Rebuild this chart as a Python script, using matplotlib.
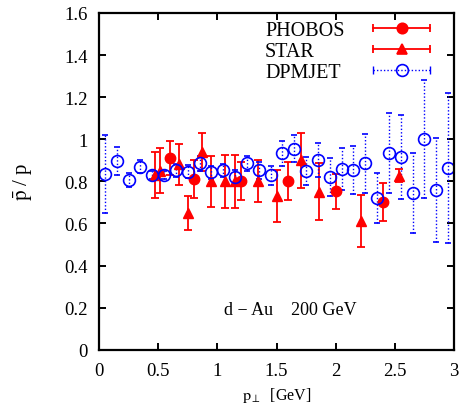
import matplotlib
matplotlib.use("Agg")
import matplotlib.pyplot as plt
from matplotlib.lines import Line2D
from matplotlib.legend_handler import HandlerBase
from matplotlib.ticker import FuncFormatter, MultipleLocator

plt.rcParams['font.family'] = ['Liberation Serif', 'DejaVu Serif']
plt.rcParams['mathtext.fontset'] = 'stix'

# ---- data ----
dpm_x = [0.05, 0.15, 0.25, 0.35, 0.45, 0.55, 0.65, 0.75, 0.85, 0.95,
         1.05, 1.15, 1.25, 1.35, 1.45, 1.55, 1.65, 1.75, 1.85, 1.95,
         2.05, 2.15, 2.25, 2.35, 2.45, 2.55, 2.65, 2.75, 2.85, 2.95]
dpm_y = [0.835, 0.898, 0.806, 0.87, 0.83, 0.83, 0.853, 0.846, 0.885, 0.843,
         0.852, 0.822, 0.885, 0.852, 0.83, 0.934, 0.955, 0.85, 0.90, 0.819,
         0.86, 0.854, 0.885, 0.72, 0.936, 0.917, 0.745, 1.0, 0.759, 0.863]
dpm_err = [0.185, 0.067, 0.035, 0.03, 0.02, 0.02, 0.03, 0.03, 0.035, 0.03,
           0.03, 0.03, 0.035, 0.04, 0.045, 0.06, 0.065, 0.065, 0.08, 0.09,
           0.10, 0.115, 0.14, 0.12, 0.19, 0.20, 0.19, 0.28, 0.245, 0.357]

phobos_x = [0.60, 0.80, 1.20, 1.60, 2.00, 2.40]
phobos_y = [0.91, 0.81, 0.80, 0.80, 0.753, 0.70]
phobos_err = [0.08, 0.09, 0.09, 0.09, 0.083, 0.09]

star_x = [0.47, 0.515, 0.676, 0.754, 0.867, 0.946, 1.064, 1.149, 1.34,
          1.503, 1.706, 1.86, 2.213, 2.536]
star_y = [0.83, 0.851, 0.881, 0.651, 0.94, 0.80, 0.80, 0.80, 0.80,
          0.73, 0.90, 0.751, 0.611, 0.827]
star_err = [0.11, 0.106, 0.098, 0.08, 0.09, 0.12, 0.125, 0.125, 0.10,
            0.125, 0.13, 0.135, 0.124, 0.03]

labels = ["PHOBOS", "STAR", "DPMJET"]
annotation = "d \u2212 Au    200 GeV"

RED = '#ff0000'
BLUE = '#0000ff'

fig = plt.figure(figsize=(4.6, 4.1), dpi=100)
ax = fig.add_axes([0.2152, 0.1446, 0.7718, 0.8213])

h1 = ax.errorbar(phobos_x, phobos_y, yerr=phobos_err, fmt='o', color=RED,
                 ms=7.5, elinewidth=1.3, capsize=3, capthick=1.3)
h2 = ax.errorbar(star_x, star_y, yerr=star_err, fmt='^', color=RED,
                 ms=7.5, elinewidth=1.3, capsize=3, capthick=1.3)
h3 = ax.errorbar(dpm_x, dpm_y, yerr=dpm_err, fmt='o', color=BLUE, mfc='none',
                 mew=1.2, ms=8.5, elinewidth=1.0, capsize=2.5, capthick=1.0)
for c in h3[2]:
    c.set_linestyle((0, (1, 1.5)))
for c in h3[1]:
    c.set_linestyle('none')


class HandlerXErr(HandlerBase):
    def __init__(self, marker, mfc, ls, lw, color, ms):
        super().__init__()
        self.marker, self.mfc, self.ls, self.lw = marker, mfc, ls, lw
        self.color, self.ms = color, ms

    def create_artists(self, legend, orig_handle, xdescent, ydescent,
                       width, height, fontsize, trans):
        y = height / 2 - ydescent
        x0, x1 = -xdescent, width - xdescent
        line = Line2D([x0, x1], [y, y], color=self.color, ls=self.ls, lw=self.lw)
        caps = Line2D([x0, x1], [y, y], color=self.color, ls='none',
                      marker='|', ms=6, mew=self.lw)
        mk = Line2D([(x0 + x1) / 2], [y], color=self.color, ls='none',
                    marker=self.marker, mfc=self.mfc, ms=self.ms, mew=1.2)
        for a in (line, caps, mk):
            a.set_transform(trans)
        return [line, caps, mk]


leg = ax.legend([h1, h2, h3], labels, loc='upper right',
                bbox_to_anchor=(0.984, 1.03), frameon=False, markerfirst=False,
                fontsize=14.5, handlelength=2.85, handletextpad=1.4,
                labelspacing=0.1, borderpad=0.4,
                handler_map={
                    h1: HandlerXErr('o', RED, '-', 1.3, RED, 7.5),
                    h2: HandlerXErr('^', RED, '-', 1.3, RED, 7),
                    h3: HandlerXErr('o', 'none', (0, (1, 1.5)), 1.0, BLUE, 8.5),
                })

# left-align the legend labels (gnuplot style) while keeping samples aligned
renderer = fig.canvas.get_renderer()
texts = leg.get_texts()
widths = [t.get_window_extent(renderer).width for t in texts]
maxw = max(widths)
pt2px = fig.dpi / 72.0
for col in leg._legend_handle_box.get_children():
    col.align = 'left'
    for item, w in zip(col.get_children(), widths):
        item.sep = item.sep + (maxw - w) / pt2px

ax.text(1.056, 0.193, annotation, fontsize=13, ha='left', va='center')

ax.set_xlim(0, 3)
ax.set_ylim(0, 1.6)
ax.xaxis.set_major_locator(MultipleLocator(0.5))
ax.yaxis.set_major_locator(MultipleLocator(0.2))
fmt = FuncFormatter(lambda v, p: '%g' % round(v, 3))
ax.xaxis.set_major_formatter(fmt)
ax.yaxis.set_major_formatter(fmt)

ax.tick_params(direction='in', length=5, width=1.4, top=True, right=True,
               labelsize=13.5)
ax.tick_params(axis='x', pad=9)
ax.tick_params(axis='y', pad=8)
for s in ax.spines.values():
    s.set_linewidth(1.6)

ax.set_xlabel(r'$\mathrm{p}_{\perp}$  [GeV]', fontsize=11.5, labelpad=4)
ax.set_ylabel(r'$\bar{\mathrm{p}}$ / p', fontsize=15, labelpad=22)

fig.savefig('out.png', dpi=100)
